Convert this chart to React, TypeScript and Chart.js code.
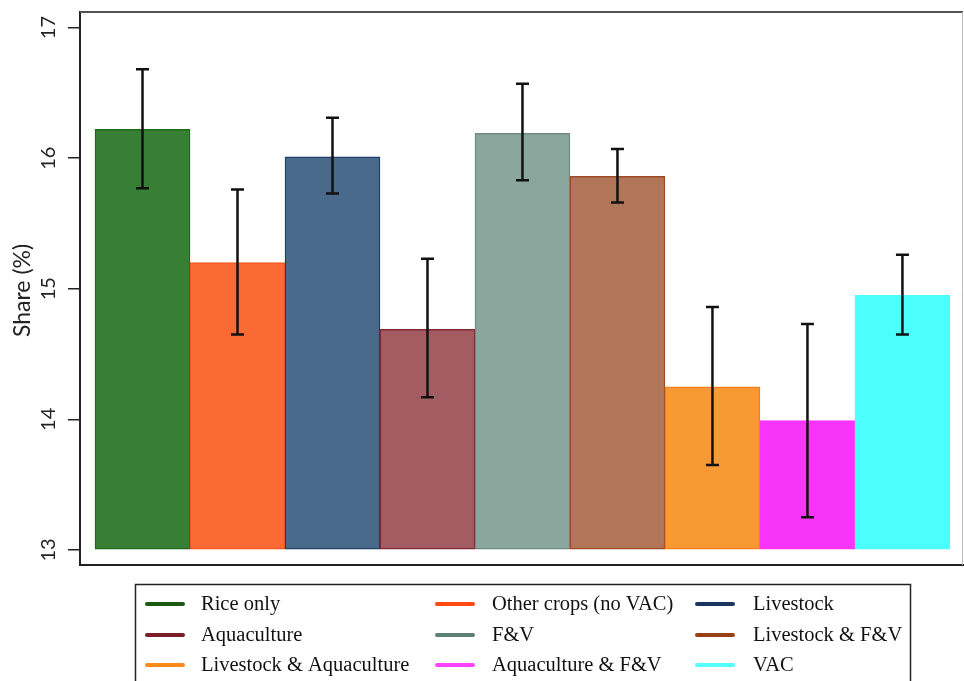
import React, { useEffect, useRef } from "react";
import { Chart, registerables } from "chart.js";

Chart.register(...registerables);

const categories = [
  "Rice only",
  "Other crops (no VAC)",
  "Livestock",
  "Aquaculture",
  "F&V",
  "Livestock & F&V",
  "Livestock & Aquaculture",
  "Aquaculture & F&V",
  "VAC",
];
const shares = [16.22, 15.2, 16.01, 14.69, 16.19, 15.86, 14.25, 13.99, 14.95];
const ciLow = [15.77, 14.65, 15.73, 14.17, 15.83, 15.66, 13.65, 13.25, 14.65];
const ciHigh = [16.68, 15.76, 16.31, 15.23, 16.57, 16.07, 14.86, 14.73, 15.26];
const yTicks = [13, 14, 15, 16, 17];
const legendOrder = [
  "Rice only",
  "Other crops (no VAC)",
  "Livestock",
  "Aquaculture",
  "F&V",
  "Livestock & F&V",
  "Livestock & Aquaculture",
  "Aquaculture & F&V",
  "VAC",
];

const fillColors = ["#367f34", "#fb6a32", "#4a6a8c", "#a35c62", "#8ba69c", "#b07657", "#f89934", "#f934f9", "#4bfffe"];
const edgeColors = ["#1f6a18", "#f55a20", "#1f3e6a", "#7f2a35", "#6d8c82", "#9c4a25", "#f5801a", "#f934f9", "#4bfffe"];
const legendColors = ["#1a5a12", "#ff4a14", "#1a3560", "#7a1e2a", "#5e8074", "#9a4018", "#ff8a1a", "#ff44ff", "#55ffff"];

const errorBars = {
  id: "errorBars",
  afterDatasetsDraw(chart: any) {
    const { ctx, scales } = chart;
    const xs = scales.x;
    const ys = scales.y;
    ctx.save();
    ctx.strokeStyle = "#111";
    ctx.lineWidth = 2.5;
    categories.forEach((_, i) => {
      const x = xs.getPixelForValue(i + 1);
      const yl = ys.getPixelForValue(ciLow[i]);
      const yh = ys.getPixelForValue(ciHigh[i]);
      ctx.beginPath();
      ctx.moveTo(x, yl);
      ctx.lineTo(x, yh);
      ctx.moveTo(x - 6.5, yl);
      ctx.lineTo(x + 6.5, yl);
      ctx.moveTo(x - 6.5, yh);
      ctx.lineTo(x + 6.5, yh);
      ctx.stroke();
    });
    ctx.restore();
  },
};

const decorations = {
  id: "decorations",
  afterDraw(chart: any) {
    const { ctx, scales, chartArea } = chart;
    const ys = scales.y;
    ctx.save();
    // top and right frame
    ctx.strokeStyle = "#555";
    ctx.lineWidth = 2;
    ctx.beginPath();
    ctx.moveTo(chartArea.left, chartArea.top);
    ctx.lineTo(chartArea.right, chartArea.top);
    ctx.stroke();
    ctx.strokeStyle = "#bbb";
    ctx.lineWidth = 1;
    ctx.beginPath();
    ctx.moveTo(chartArea.right - 0.5, chartArea.top);
    ctx.lineTo(chartArea.right - 0.5, chartArea.bottom);
    ctx.stroke();

    // rotated y tick labels
    ctx.fillStyle = "#222";
    ctx.font = "20px Lato";
    ctx.textAlign = "center";
    ctx.textBaseline = "middle";
    yTicks.forEach((v) => {
      const y = ys.getPixelForValue(v);
      ctx.save();
      ctx.translate(49, y);
      ctx.rotate(-Math.PI / 2);
      ctx.fillText(String(v), 0, 0);
      ctx.restore();
    });
    // y title
    ctx.save();
    ctx.font = "23px Lato";
    ctx.translate(23, (chartArea.top + chartArea.bottom) / 2 + 2);
    ctx.rotate(-Math.PI / 2);
    ctx.fillText("Share (%)", 0, 0);
    ctx.restore();

    // legend
    ctx.strokeStyle = "#222";
    ctx.lineWidth = 1.5;
    ctx.strokeRect(135.5, 584.5, 775, 200);
    const markerX = [147, 437, 697];
    const textX = [201, 492, 753];
    const rowY = [604, 635, 665];
    ctx.font = "20.5px 'Liberation Serif'";
    ctx.textAlign = "left";
    ctx.textBaseline = "middle";
    legendOrder.forEach((name, i) => {
      const c = i % 3;
      const r = Math.floor(i / 3);
      const idx = categories.indexOf(name);
      ctx.strokeStyle = legendColors[idx];
      ctx.lineWidth = 4;
      ctx.lineCap = "round";
      ctx.beginPath();
      ctx.moveTo(markerX[c], rowY[r]);
      ctx.lineTo(markerX[c] + 36, rowY[r]);
      ctx.stroke();
      ctx.fillStyle = "#111";
      ctx.fillText(name, textX[c], rowY[r] + 1);
    });
    ctx.restore();
  },
};

export default function App() {
  const ref = useRef<HTMLCanvasElement | null>(null);
  useEffect(() => {
    document.body.style.margin = "0";
    const canvas = ref.current;
    if (!canvas) return;
    const chart = new Chart(canvas, {
      type: "bar",
      data: {
        datasets: [
          {
            label: "Share",
            data: shares.map((v, i) => ({ x: i + 1, y: v })) as any,
            backgroundColor: fillColors,
            borderColor: edgeColors,
            borderWidth: 1.5,
            borderSkipped: false,
            base: 13,
            barThickness: "flex",
            barPercentage: 1,
            categoryPercentage: 1,
          } as any,
        ],
      },
      options: {
        responsive: false,
        animation: false,
        devicePixelRatio: 1,
        layout: { padding: { left: 0, right: 1, top: 12, bottom: 116 } },
        plugins: { legend: { display: false }, tooltip: { enabled: false } },
        scales: {
          x: {
            type: "linear",
            offset: false,
            min: 0.342,
            max: 9.6375,
            ticks: { display: false },
            grid: { display: false, offset: false },
            border: { display: true, color: "#222", width: 2 },
            afterFit: (s: any) => {
              s.height = 0;
            },
          },
          y: {
            type: "linear",
            min: 12.885,
            max: 17.119,
            afterBuildTicks: (s: any) => {
              s.ticks = yTicks.map((v) => ({ value: v }));
            },
            ticks: { display: false },
            grid: {
              display: true,
              drawOnChartArea: false,
              drawTicks: true,
              tickLength: 12,
              color: "#222",
              lineWidth: 1.5,
            },
            border: { display: true, color: "#222", width: 2 },
            afterFit: (s: any) => {
              s.width = 80;
            },
          },
        },
      },
      plugins: [errorBars, decorations],
    });
    return () => chart.destroy();
  }, []);
  return (
    <div style={{ width: 964, height: 681, background: "#fff" }}>
      <canvas ref={ref} width={964} height={681} style={{ display: "block" }} />
    </div>
  );
}
